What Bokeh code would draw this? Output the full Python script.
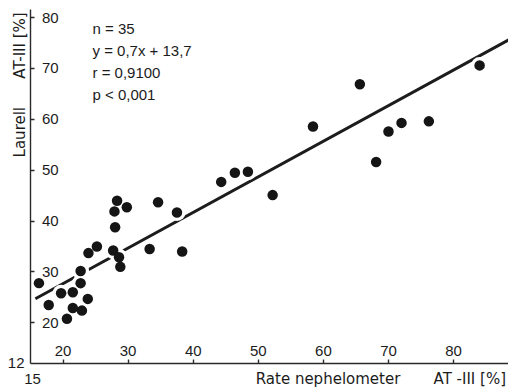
import numpy as np
from bokeh.plotting import figure
from bokeh.models import FixedTicker, Label, LabelSet, ColumnDataSource, Range1d
from bokeh.core.properties import value
from bokeh.embed import file_html
from bokeh.resources import INLINE

# ---- data ----
rate_nephelometer = [16.3, 17.8, 19.7, 20.6, 21.5, 21.5, 22.9, 22.7, 22.7, 23.8,
                     23.9, 25.2, 27.7, 28.6, 28.8, 28.0, 27.9, 28.3, 29.8, 33.3,
                     34.6, 37.5, 38.3, 44.3, 46.4, 48.4, 52.2, 58.4, 65.6, 68.1,
                     70.0, 72.0, 76.2, 84.0]
laurell = [27.8, 23.5, 25.8, 20.8, 26.0, 22.9, 22.4, 27.8, 30.2, 24.7,
           33.7, 35.0, 34.2, 32.9, 31.0, 38.8, 41.9, 44.0, 42.7, 34.5,
           43.7, 41.7, 34.0, 47.7, 49.5, 49.7, 45.1, 58.6, 66.9, 51.6,
           57.6, 59.3, 59.6, 70.6]
slope = 0.7
intercept = 13.7
fit_x_span = [15.75, 92.0]
stats_lines = ["n = 35", "y = 0,7x + 13,7", "r = 0,9100", "p < 0,001"]
x_ticks = [20, 30, 40, 50, 60, 70, 80]
x_tick_labels = ["20", "30", "40", "50", "60", "70", "80"]
y_ticks = [20, 30, 40, 50, 60, 70, 80]
y_tick_labels = ["20", "30", "40", "50", "60", "70", "80"]
x_origin, y_origin = 15, 12
x_origin_label = "15"
y_origin_label = "12"
x_title_parts = ["Rate nephelometer", "AT -III [%]"]
y_title_parts = ["Laurell", "AT-III [%]"]

FONT = "Liberation Sans"
TITLE_FONT = "DejaVu Sans"
INK = "#1c1c1c"
FS = "15px"

p = figure(width=508, height=390, x_range=Range1d(10.391, 88.436), y_range=Range1d(6.692, 83.359),
           output_backend="svg", toolbar_location=None, min_border=0)
p.outline_line_color = None
p.grid.visible = False
p.background_fill_color = "white"
p.border_fill_color = "white"

for ax, ticks in ((p.xaxis[0], x_ticks), (p.yaxis[0], y_ticks)):
    ax.ticker = FixedTicker(ticks=ticks)
    ax.minor_tick_line_color = None
    ax.axis_line_color = "#2a2a2a"
    ax.axis_line_width = 1.4
    ax.major_tick_line_color = "#2a2a2a"
    ax.major_tick_line_width = 1.4
    ax.major_label_text_font_size = "0px"
    ax.major_label_text_color = None
    ax.major_label_standoff = 0
    ax.major_tick_out = 0
p.xaxis.fixed_location = y_origin
p.yaxis.fixed_location = x_origin
p.xaxis.bounds = (x_origin, 92)
p.yaxis.bounds = (y_origin, 81.5)
p.xaxis.major_tick_in = 4
p.yaxis.major_tick_in = 4

# regression line
fx = np.array(fit_x_span)
fy = slope * fx + intercept
p.line(fx, fy, line_width=3, color=INK)

# white halos then dots
src = ColumnDataSource(dict(x=rate_nephelometer, y=laurell))
p.scatter("x", "y", source=src, size=17, fill_color="white", line_color=None)
p.scatter("x", "y", source=src, size=10.5, fill_color="#151515", line_color=None)

# tick labels (drawn inside the axes, as in the reference)
xs = ColumnDataSource(dict(x=x_ticks, y=[y_origin] * len(x_ticks), t=x_tick_labels))
p.add_layout(LabelSet(x="x", y="y", text="t", source=xs, text_align="center",
                      text_baseline="middle", y_offset=12.5, text_font=value(FONT),
                      text_font_size=FS, text_color=INK))
ys = ColumnDataSource(dict(x=[x_origin] * len(y_ticks), y=y_ticks, t=y_tick_labels))
p.add_layout(LabelSet(x="x", y="y", text="t", source=ys, text_align="left",
                      text_baseline="middle", x_offset=11.5, text_font=value(FONT),
                      text_font_size=FS, text_color=INK))

p.add_layout(Label(x=x_origin, y=y_origin, text=y_origin_label, text_align="right",
                   text_baseline="middle", x_offset=-6, text_font=FONT, text_font_size=FS,
                   text_color=INK))
p.add_layout(Label(x=x_origin, y=y_origin, text=x_origin_label, text_align="center",
                   text_baseline="middle", x_offset=2, y_offset=-15.5, text_font=FONT,
                   text_font_size=FS, text_color=INK))

# axis titles
p.add_layout(Label(x=60.71, y=y_origin, text=x_title_parts[0], text_align="center",
                   text_baseline="middle", y_offset=-15.5, text_font=TITLE_FONT,
                   text_font_size=FS, text_color=INK))
p.add_layout(Label(x=82.49, y=y_origin, text=x_title_parts[1], text_align="center",
                   text_baseline="middle", y_offset=-15.5, text_font=TITLE_FONT,
                   text_font_size=FS, text_color=INK))
p.add_layout(Label(x=13.36, y=57.47, text=y_title_parts[0], angle=np.pi / 2, text_align="center",
                   text_baseline="middle", text_font=TITLE_FONT, text_font_size=FS,
                   text_color=INK))
p.add_layout(Label(x=13.36, y=74.51, text=y_title_parts[1], angle=np.pi / 2, text_align="center",
                   text_baseline="middle", text_font=TITLE_FONT, text_font_size=FS,
                   text_color=INK))

# statistics block
stats_y0 = 77.85
stats_step = 4.343
for i, line in enumerate(stats_lines):
    p.add_layout(Label(x=24.52, y=stats_y0 - i * stats_step, text=line, text_align="left",
                       text_baseline="middle", text_font=FONT, text_font_size=FS,
                       text_color=INK))

open("out.html", "w").write(file_html(p, INLINE))
